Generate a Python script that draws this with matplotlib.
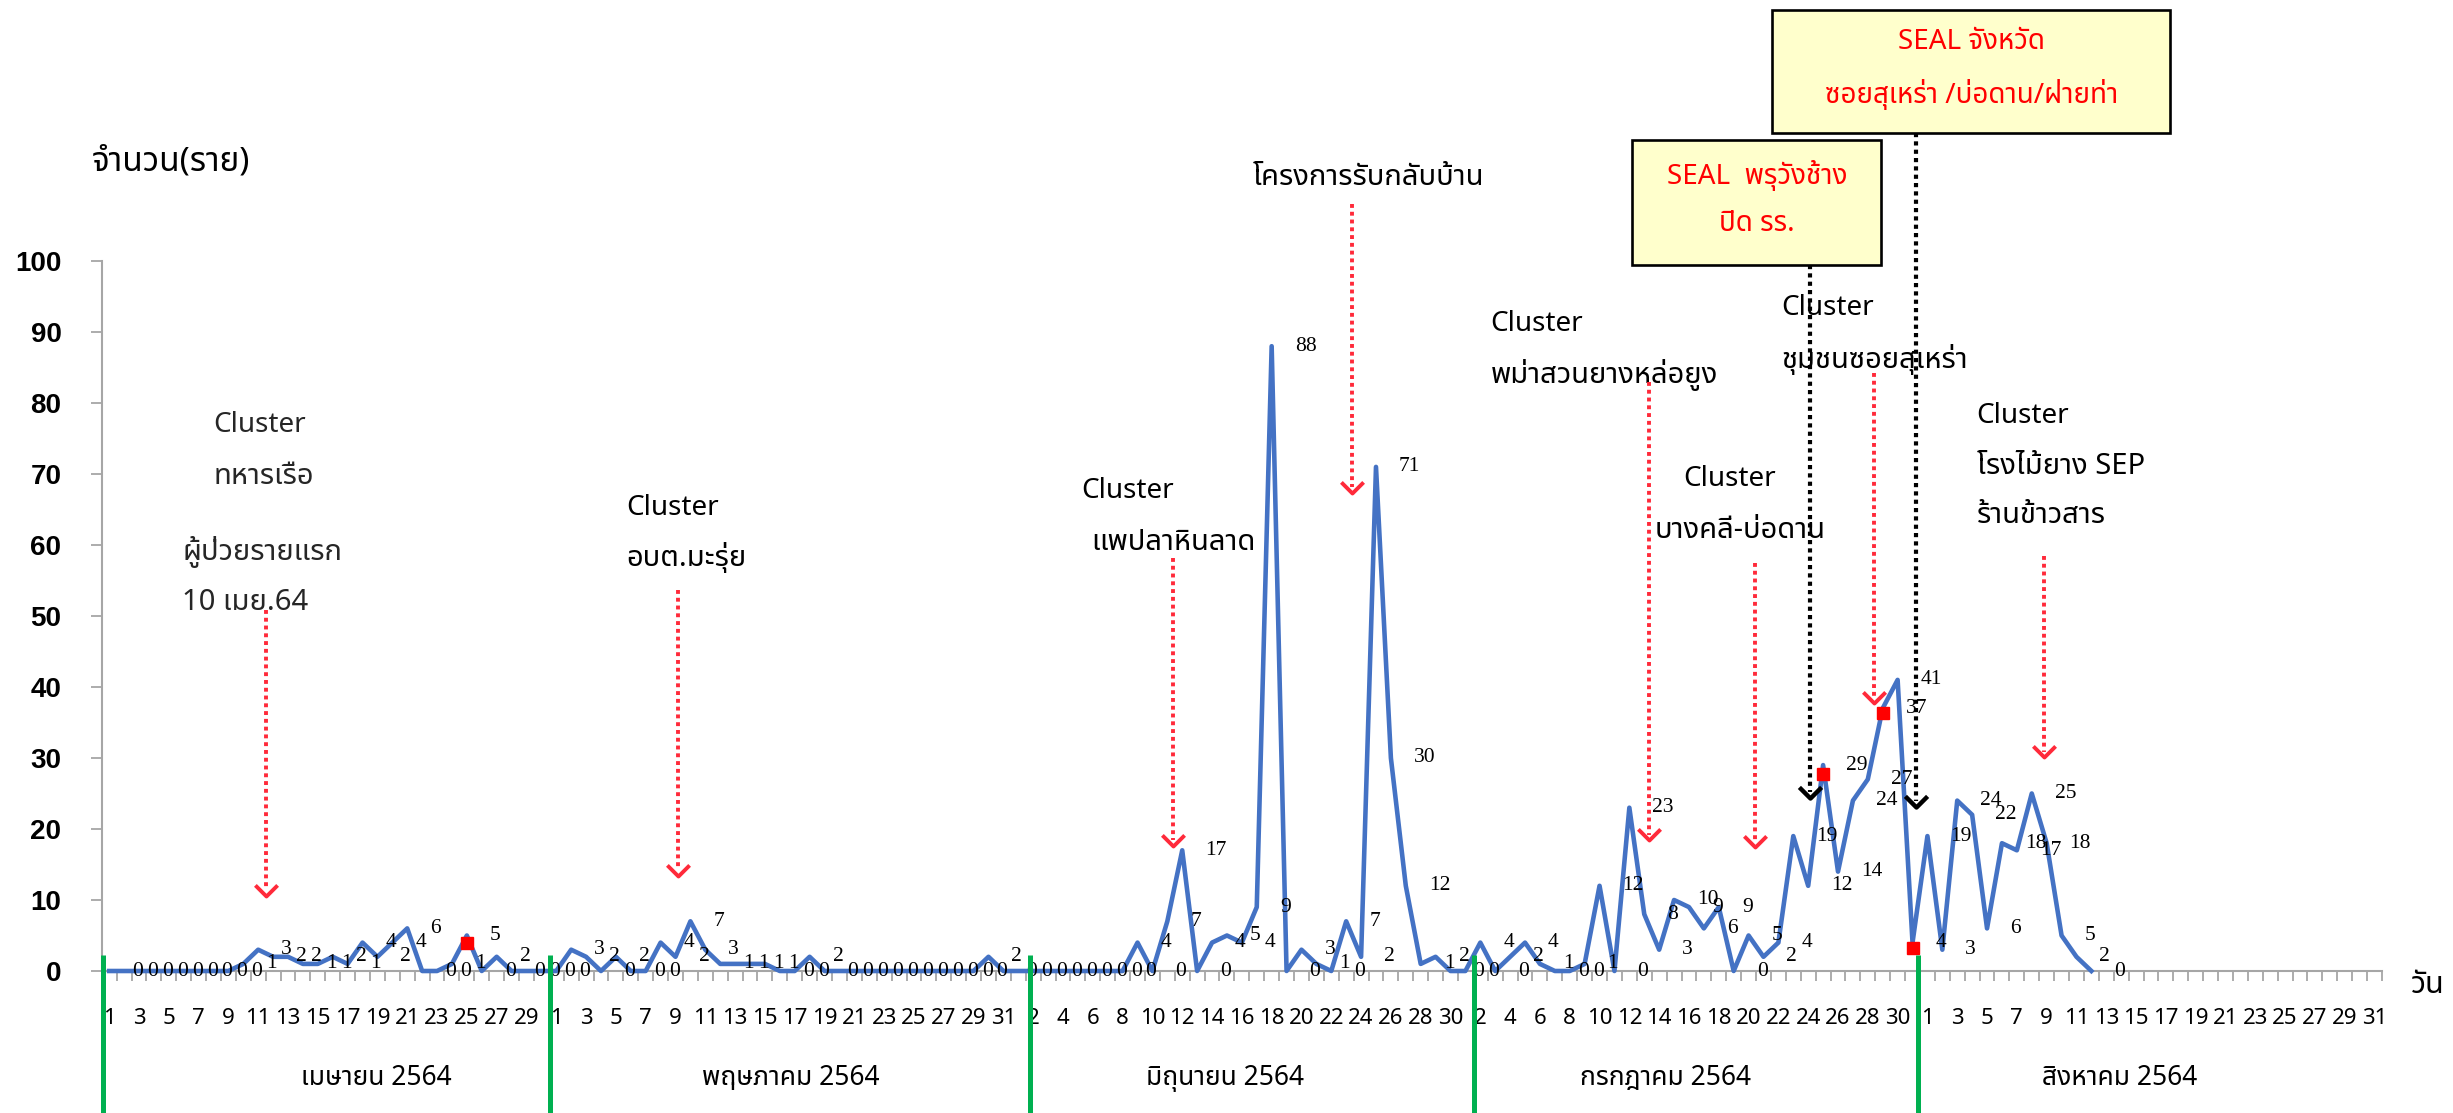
import numpy as np
import matplotlib
matplotlib.use('Agg')
import matplotlib.pyplot as plt
from matplotlib import font_manager as fm
from matplotlib.path import Path
from matplotlib.patches import Rectangle

# ---------------- data ----------------
month_names = ['เมษายน 2564', 'พฤษภาคม 2564', 'มิถุนายน 2564', 'กรกฎาคม 2564', 'สิงหาคม 2564']
month_days = [30, 31, 30, 31, 31]
apr_cases = [0, 0, 0, 0, 0, 0, 0, 0, 0, 1, 3, 2, 2, 1, 1, 2, 1, 4, 2, 4, 6, 0, 0, 1, 5, 0, 2, 0, 0, 0]
may_cases = [0, 3, 2, 0, 2, 0, 0, 4, 2, 7, 3, 1, 1, 1, 1, 0, 0, 2, 0, 0, 0, 0, 0, 0, 0, 0, 0, 0, 0, 2, 0]
jun_cases = [0, 0, 0, 0, 0, 0, 0, 0, 4, 0, 7, 17, 0, 4, 5, 4, 9, 88, 0, 3, 1, 0, 7, 2, 71, 30, 12, 1, 2, 0]
jul_cases = [0, 4, 0, 2, 4, 1, 0, 0, 1, 12, 0, 23, 8, 3, 10, 9, 6, 9, 0, 5, 2, 4, 19, 12, 29, 14, 24, 27, 37, 41, 4]
aug_cases = [19, 3, 24, 22, 6, 18, 17, 25, 18, 5, 2, 0]
y_label = 'จำนวน(ราย)'
x_label = 'วัน'

# red square markers (category index, value)
red_sq_x = [24, 115, 119, 121]
red_sq_y = [3.9, 27.7, 36.3, 3.3]

# ---------------- fonts ----------------
def find_thai():
    prefs = ['Leelawadee UI', 'Leelawadee', 'Tahoma', 'Noto Sans Thai', 'Noto Sans Thai UI',
             'Noto Sans Thai Looped', 'Sarabun', 'Loma', 'Garuda']
    names = set()
    try:
        from fontTools.ttLib import TTFont
        for f in fm.fontManager.ttflist:
            try:
                t = TTFont(f.fname, fontNumber=0, lazy=True)
                cm = t.getBestCmap()
                if cm and 0x0E01 in cm:
                    names.add(f.name)
                t.close()
            except Exception:
                pass
    except Exception:
        pass
    for p in prefs:
        if p in names:
            return p
    return sorted(names)[0] if names else None

thai = find_thai()
SANS = ([thai] if thai else []) + ['DejaVu Sans']
SERIF = ['Liberation Serif', 'DejaVu Serif']
plt.rcParams['font.family'] = SANS

# ---------------- figure ----------------
W, H = 2453, 1113
fig = plt.figure(figsize=(W / 100, H / 100), dpi=100)
ax = fig.add_axes([101.7 / W, 142 / H, 2280.3 / W, 710 / H])

values = apr_cases + may_cases + jun_cases + jul_cases + aug_cases
n = sum(month_days)
xs = np.arange(n)
ys = np.full(n, np.nan)
ys[:len(values)] = values

ax.plot(xs, ys, color='#4472C4', lw=3.3, zorder=3, clip_on=False)
ax.plot(red_sq_x, red_sq_y, 's', color='#FF0000', ms=8.5, zorder=4, clip_on=False)

for i, v in enumerate(values):
    ax.annotate(str(v), (i, v), xytext=(23, 0), textcoords='offset pixels',
                ha='left', va='center', fontsize=15.5, family=SERIF, color='black',
                annotation_clip=False, zorder=5)

ax.set_xlim(-0.5, n - 0.5)
ax.set_ylim(0, 100)
for s in ['top', 'right']:
    ax.spines[s].set_visible(False)
for s in ['left', 'bottom']:
    ax.spines[s].set_color('#A6A6A6')
    ax.spines[s].set_linewidth(1.5)

# day labels
days = []
for md in month_days:
    days += list(range(1, md + 1))
ax.set_xticks(xs[::2])
ax.set_xticklabels([str(d) for d in days[::2]], fontsize=16)
ax.set_xticks(np.arange(-0.5, n, 1.0), minor=True)
ax.tick_params(axis='x', which='major', length=0, pad=27)
ax.tick_params(axis='x', which='minor', length=7.5, width=1.3, color='#A6A6A6', direction='out')
ax.set_yticks(np.arange(0, 101, 10))
ax.set_yticklabels([str(v) for v in range(0, 101, 10)], fontsize=20, fontweight='bold',
                   family=['Liberation Sans', 'DejaVu Sans'])
ax.tick_params(axis='y', length=8, width=1.3, color='#A6A6A6', direction='out', pad=21)

# month labels
month_pos = [17.9, 45.7, 74.9, 104.4, 134.9]
for mx, name in zip(month_pos, month_names):
    ax.text(mx, -15.1, name, ha='center', va='center', fontsize=19, clip_on=False)

# green month separators
trans = ax.get_xaxis_transform()
for gx in [-0.4, 29.6, 61.8, 91.6, 121.4]:
    ax.plot([gx, gx], [0.0225, -0.2], transform=trans, color='#00B050', lw=3.6,
            clip_on=False, zorder=6, solid_capstyle='butt')

fig.text(92 / W, 1 - 162 / H, y_label, ha='left', va='center', fontsize=24)
fig.text(2411 / W, 1 - 985 / H, x_label, ha='left', va='center', fontsize=22)

# arrows
vmark = Path([(-1, 1), (0, 0), (1, 1)], [Path.MOVETO, Path.LINETO, Path.LINETO])
red_arrows = [(10.5, 50.8, 10.6), (38.2, 53.7, 13.4), (71.4, 58.2, 17.6), (83.4, 108.0, 67.3),
              (103.3, 83.0, 18.4), (110.4, 57.5, 17.5), (118.4, 84.2, 37.7), (129.8, 58.5, 30.1)]
for ax_, top, tip in red_arrows:
    ax.plot([ax_, ax_], [top, tip + 0.8], color='#FF2A3A', lw=2.8, ls=(0, (1, 1)),
            clip_on=False, zorder=7, dash_capstyle='butt')
    ax.plot([ax_], [tip], marker=vmark, ms=16, mfc='none', mec='#FF2A3A', mew=2.8,
            clip_on=False, zorder=7)
black_arrows = [(114.1, 99.4, 24.4), (121.2, 118.0, 23.1)]
for ax_, top, tip in black_arrows:
    ax.plot([ax_, ax_], [top, tip + 0.8], color='black', lw=3.0, ls=(0, (1, 1)),
            clip_on=False, zorder=7, dash_capstyle='butt')
    ax.plot([ax_], [tip], marker=vmark, ms=16, mfc='none', mec='black', mew=3.2,
            clip_on=False, zorder=7)

# boxes
for (x0, x1, y0, y1) in [(102.2, 118.9, 99.4, 117.0), (111.6, 138.3, 118.0, 135.4)]:
    ax.add_patch(Rectangle((x0, y0), x1 - x0, y1 - y0, facecolor='#FFFFCC',
                           edgecolor='black', lw=1.9, clip_on=False, zorder=8))
box_texts = [(110.55, 112.1, 'SEAL  พรุวังช้าง'), (110.55, 105.2, 'ปิด รร.'),
             (124.95, 130.8, 'SEAL จังหวัด'), (124.95, 123.5, 'ซอยสุเหร่า /บ่อดาน/ฝ่ายท่า')]
for bx, by, s in box_texts:
    ax.text(bx, by, s, ha='center', va='center', fontsize=20, color='#FF0000',
            clip_on=False, zorder=9)

# cluster notes
notes = [(7.0, 76.9, 'Cluster'), (7.0, 69.6, 'ทหารเรือ'), (4.9, 59.0, 'ผู้ป่วยรายแรก'),
         (4.9, 51.9, '10 เมย.64'),
         (34.7, 65.2, 'Cluster'), (34.7, 58.2, 'อบต.มะรุ่ย'),
         (65.2, 67.6, 'Cluster'), (65.9, 60.3, 'แพปลาหินลาด'),
         (76.7, 111.8, 'โครงการรับกลับบ้าน'),
         (92.7, 91.1, 'Cluster'), (92.7, 83.9, 'พม่าสวนยางหล่อยูง'),
         (105.6, 69.3, 'Cluster'), (103.7, 62.1, 'บางคลี-บ่อดาน'),
         (112.2, 93.4, 'Cluster'), (112.2, 86.1, 'ชุมชนซอยสุเหร่า'),
         (125.3, 78.2, 'Cluster'), (125.3, 71.1, 'โรงไม้ยาง SEP'), (125.3, 64.1, 'ร้านข้าวสาร')]
for k, (nx, ny, s) in enumerate(notes):
    ax.text(nx, ny, s, ha='left', va='center', fontsize=20 if s == 'Cluster' else 21,
            color='#262626' if k < 4 else 'black', clip_on=False, zorder=6)

fig.savefig('out.png', dpi=100)
